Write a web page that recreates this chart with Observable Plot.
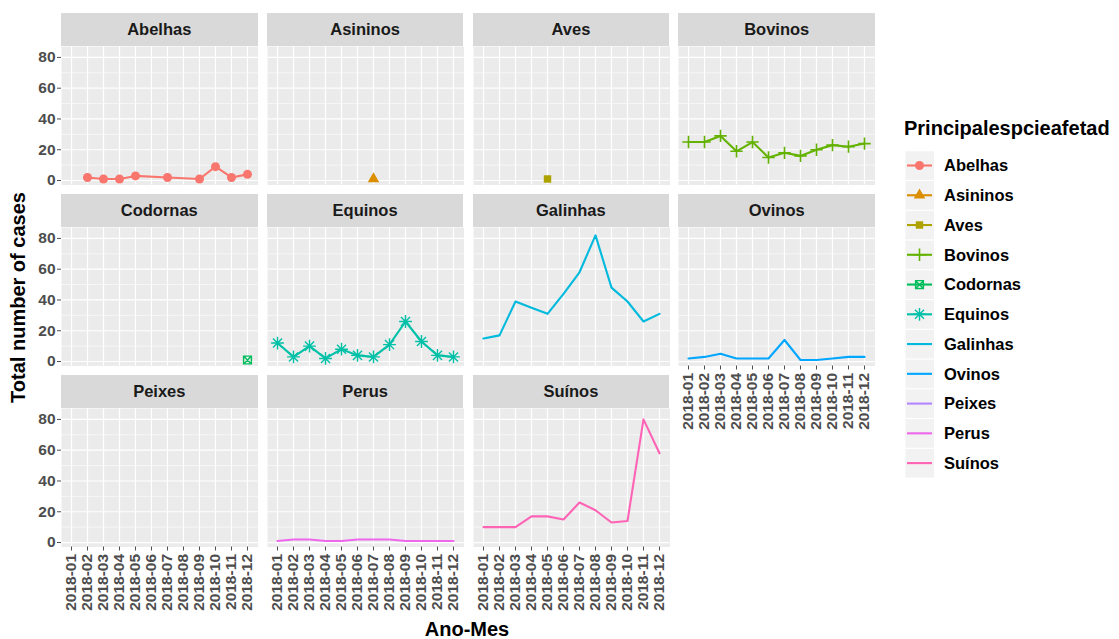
<!DOCTYPE html>
<html>
<head>
<meta charset="utf-8">
<script src="https://cdn.jsdelivr.net/npm/d3@7"></script>
<script src="https://cdn.jsdelivr.net/npm/@observablehq/plot@0.6"></script>
<style>
  body { margin: 0; background: #ffffff; }
  #chart { position: relative; width: 1119px; height: 639px; overflow: hidden;
           font-family: "Liberation Sans", Arial, sans-serif; background: #ffffff; }
  .strip { position: absolute; background: #d9d9d9; color: #1a1a1a; font-weight: bold;
           font-size: 16.5px; display: flex; align-items: center; justify-content: center; }
  .panel { position: absolute; }
</style>
</head>
<body>
<div id="chart"></div>
<script>
// ---------------- DATA ----------------
const months = ["2018-01","2018-02","2018-03","2018-04","2018-05","2018-06",
                "2018-07","2018-08","2018-09","2018-10","2018-11","2018-12"];
const species = ["Abelhas","Asininos","Aves","Bovinos","Codornas","Equinos",
                 "Galinhas","Ovinos","Peixes","Perus","Suínos"];
const colors = ["#F8766D","#DB8E00","#AEA200","#64B200","#00BD5C","#00C1A7",
                "#00BADE","#00A6FF","#B385FF","#EF67EB","#FF63B6"];
const shapes = ["circle","triangle","square","plus","squarecross","asterisk",
                null,null,null,null,null];
const yTicks = [0,20,40,60,80];
const yMinor = [10,30,50,70];

const abelhasMonths = ["2018-02","2018-03","2018-04","2018-05","2018-07","2018-09","2018-10","2018-11","2018-12"];
const abelhasValues = [2,1,1,3,2,1,9,2,4];
const asininosMonths = ["2018-07"];
const asininosValues = [1];
const avesMonths = ["2018-05"];
const avesValues = [1];
const bovinosValues = [25,25,29,19,25,15,18,16,20,23,22,24];
const codornasMonths = ["2018-12"];
const codornasValues = [1];
const equinosValues = [12,3,10,2,8,4,3,11,26,13,4,3];
const galinhasValues = [15,17,39,35,31,44,58,82,48,39,26,31];
const ovinosValues = [2,3,5,2,2,2,14,1,1,2,3,3];
const peixesMonths = [];
const peixesValues = [];
const perusValues = [1,2,2,1,1,2,2,2,1,1,1,1];
const suinosValues = [10,10,10,17,17,15,26,21,13,14,80,58];

const seriesMonths = [abelhasMonths, asininosMonths, avesMonths, months, codornasMonths, months,
                      months, months, peixesMonths, months, months];
const seriesValues = [abelhasValues, asininosValues, avesValues, bovinosValues, codornasValues, equinosValues,
                      galinhasValues, ovinosValues, peixesValues, perusValues, suinosValues];

// ---------------- LAYOUT ----------------
const colLeft = [61, 266.8, 472.6, 678.4], panelW = 196.6;
const stripTop = [13, 194, 375], stripH = 32.5, plotH = 138.5;
const FONT = '"Liberation Sans", Arial, sans-serif';

// custom stroke symbols (ggplot shapes 3, 7, 8)
const plusSym = {draw(ctx, size){ const r = Math.sqrt(size/Math.PI);
  ctx.moveTo(-r,0); ctx.lineTo(r,0); ctx.moveTo(0,-r); ctx.lineTo(0,r); }};
const squareCrossSym = {draw(ctx, size){ const s = Math.sqrt(size/Math.PI)*0.886;
  ctx.moveTo(-s,-s); ctx.lineTo(s,-s); ctx.lineTo(s,s); ctx.lineTo(-s,s); ctx.closePath();
  ctx.moveTo(-s,-s); ctx.lineTo(s,s); ctx.moveTo(s,-s); ctx.lineTo(-s,s); }};
const asteriskSym = {draw(ctx, size){ const r = Math.sqrt(size/Math.PI), d = r*0.7071;
  ctx.moveTo(-r,0); ctx.lineTo(r,0); ctx.moveTo(0,-r); ctx.lineTo(0,r);
  ctx.moveTo(-d,-d); ctx.lineTo(d,d); ctx.moveTo(-d,d); ctx.lineTo(d,-d); }};

function symbolSpec(shape, color){
  switch(shape){
    case "circle": return {symbol:"circle", r:4.5, fill:color, stroke:"none"};
    case "triangle": return {symbol:"triangle", r:4.3, fill:color, stroke:"none"};
    case "square": return {symbol:"square", r:4.2, fill:color, stroke:"none"};
    case "plus": return {symbol:plusSym, r:6.2, fill:"none", stroke:color, strokeWidth:1.6};
    case "squarecross": return {symbol:squareCrossSym, r:4.4, fill:"none", stroke:color, strokeWidth:1.4};
    case "asterisk": return {symbol:asteriskSym, r:6.4, fill:"none", stroke:color, strokeWidth:1.4};
  }
  return null;
}

const chart = document.getElementById("chart");

species.forEach((name, i) => {
  const row = Math.floor(i/4), col = i % 4;
  const showY = col === 0;
  const showX = row === 2 || (row === 1 && col === 3);
  const ML = showY ? 42 : 0, MB = showX ? 80 : 0;
  const data = seriesMonths[i].map((m, k) => ({month: m, value: seriesValues[i][k]}));
  const color = colors[i];

  // strip
  const strip = document.createElement("div");
  strip.className = "strip";
  strip.style.left = colLeft[col] + "px";
  strip.style.top = stripTop[row] + "px";
  strip.style.width = panelW + "px";
  strip.style.height = stripH + "px";
  strip.textContent = name;
  chart.appendChild(strip);

  const marks = [
    Plot.frame({fill:"#ebebeb", stroke:"none"}),
    Plot.ruleY(yMinor, {stroke:"#ffffff", strokeWidth:0.6}),
    Plot.ruleY(yTicks, {stroke:"#ffffff", strokeWidth:1.2}),
    Plot.ruleX(months, {stroke:"#ffffff", strokeWidth:1.2}),
    Plot.line(data, {x:"month", y:"value", stroke:color, strokeWidth:2.1})
  ];
  const sym = symbolSpec(shapes[i], color);
  if (sym) marks.push(Plot.dot(data, {x:"month", y:"value", ...sym}));
  if (showY) marks.push(Plot.axisY(yTicks, {label:null, tickSize:4, tickPadding:2, fontSize:15.5, fontWeight:"bold", color:"#4d4d4d"}));
  if (showX) marks.push(Plot.axisX({label:null, tickSize:4, tickPadding:3, tickRotate:-90, fontSize:15.5, fontWeight:"bold", color:"#4d4d4d"}));

  const svg = Plot.plot({
    width: panelW + ML,
    height: plotH + MB,
    marginLeft: ML, marginRight: 0, marginTop: 0, marginBottom: MB,
    x: {type:"point", domain: months, padding: 0.6, axis: null, label: null},
    y: {domain: [-2.9, 87.1], axis: null, label: null},
    style: {background:"transparent", overflow:"visible", fontFamily: FONT, fontSize:"15.5px",
            fontWeight:"bold", color:"#4d4d4d", maxWidth:"none"},
    marks
  });
  svg.classList.add("panel");
  svg.style.position = "absolute";
  svg.style.left = (colLeft[col] - ML) + "px";
  svg.style.top = (stripTop[row] + stripH) + "px";
  chart.appendChild(svg);
});

// ---------------- TITLES + LEGEND ----------------
const over = d3.select(chart).append("svg")
  .attr("width", 1119).attr("height", 639)
  .style("position","absolute").style("left","0px").style("top","0px")
  .style("pointer-events","none").style("overflow","visible")
  .style("font-family", FONT).style("font-weight","bold");

over.append("text")
  .attr("transform","translate(25,297.5) rotate(-90)")
  .attr("text-anchor","middle").attr("font-size",20).attr("fill","#000")
  .text("Total number of cases");
over.append("text")
  .attr("x", 467).attr("y", 636).attr("text-anchor","middle")
  .attr("font-size",20).attr("fill","#000").text("Ano-Mes");

const lg = over.append("g");
lg.append("text").attr("x",904).attr("y",135).attr("font-size",20).attr("fill","#000")
  .text("Principalespcieafetad");
const rowH = 29.76, firstCenter = 165.5;
species.forEach((name, i) => {
  const cy = firstCenter + i*rowH;
  lg.append("rect").attr("x",905.5).attr("y",cy - 14.2).attr("width",28.5).attr("height",28.6)
    .attr("fill","#f2f2f2");
  lg.append("line").attr("x1",907).attr("x2",932).attr("y1",cy).attr("y2",cy)
    .attr("stroke",colors[i]).attr("stroke-width",2.1);
  const sym = symbolSpec(shapes[i], colors[i]);
  if (sym) {
    const type = typeof sym.symbol === "string"
      ? {circle:d3.symbolCircle, triangle:d3.symbolTriangle, square:d3.symbolSquare}[sym.symbol]
      : sym.symbol;
    lg.append("path")
      .attr("transform",`translate(919.5,${cy})`)
      .attr("d", d3.symbol().type(type).size(Math.PI*sym.r*sym.r)())
      .attr("fill", sym.fill).attr("stroke", sym.stroke)
      .attr("stroke-width", sym.strokeWidth || 0);
  }
  lg.append("text").attr("x",944).attr("y",cy).attr("dy","0.35em")
    .attr("font-size",16.5).attr("fill","#000").text(name);
});
</script>
</body>
</html>
